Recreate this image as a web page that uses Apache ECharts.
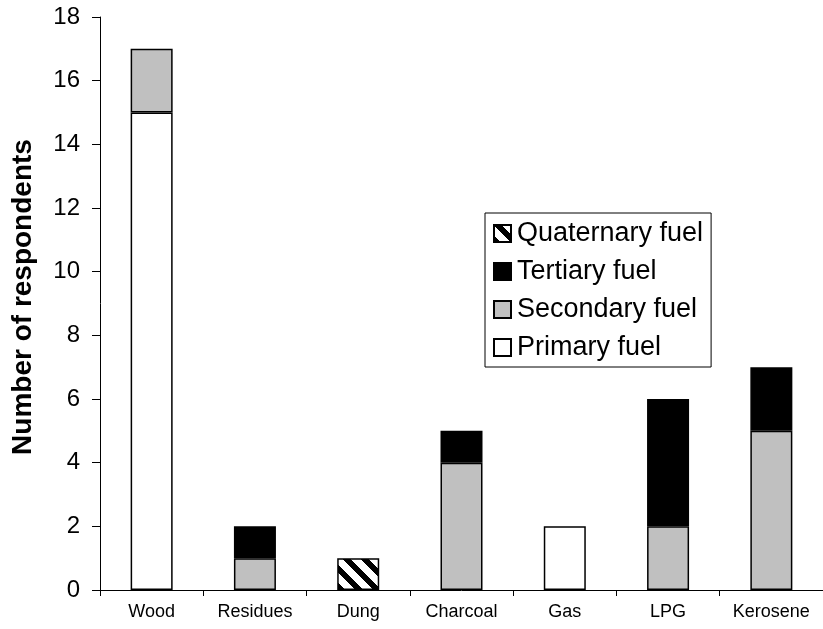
<!DOCTYPE html>
<html>
<head>
<meta charset="utf-8">
<script src="https://cdn.jsdelivr.net/npm/echarts@6/dist/echarts.min.js"></script>
<style>
html,body{margin:0;padding:0;background:#fff;}
#chart{width:823px;height:629px;}
</style>
</head>
<body>
<div id="chart"></div>
<script>
const categories = ['Wood', 'Residues', 'Dung', 'Charcoal', 'Gas', 'LPG', 'Kerosene'];
const primaryFuel = [15, null, null, null, 2, null, null];
const secondaryFuel = [2, 1, null, 4, null, 2, 5];
const tertiaryFuel = [null, 1, null, 1, null, 4, 2];
const quaternaryFuel = [null, null, 1, null, null, null, null];
const yTicks = { min: 0, max: 18, interval: 2 };
const yTitle = 'Number of respondents';

function hatch() {
  const P = 18;
  const c = document.createElement('canvas');
  c.width = P; c.height = P;
  const ctx = c.getContext('2d');
  const img = ctx.createImageData(P, P);
  for (let y = 0; y < P; y++) {
    for (let x = 0; x < P; x++) {
      const v = (((x - y) % P) + P) % P;
      const black = v < 8;
      const i = (y * P + x) * 4;
      const col = black ? 0 : 255;
      img.data[i] = col; img.data[i + 1] = col; img.data[i + 2] = col; img.data[i + 3] = 255;
    }
  }
  ctx.putImageData(img, 0, 0);
  return c;
}

const chart = echarts.init(document.getElementById('chart'), null, { renderer: 'canvas' });
const font = 'Liberation Sans, Arial, sans-serif';
const border = { borderColor: '#000', borderWidth: 1.5 };

function bar(name, data, color) {
  return {
    name: name,
    type: 'bar',
    stack: 'total',
    data: data,
    barWidth: 42,
    itemStyle: Object.assign({ color: color }, border),
    emphasis: { disabled: true }
  };
}

chart.setOption({
  animation: false,
  backgroundColor: '#fff',
  textStyle: { fontFamily: font },
  grid: { left: 100, right: -7, top: 17, bottom: 39, containLabel: false },
  legend: {
    data: ['Quaternary fuel', 'Tertiary fuel', 'Secondary fuel', 'Primary fuel'],
    orient: 'vertical',
    left: 485,
    top: 213,
    itemWidth: 17,
    itemHeight: 17,
    itemGap: 11,
    padding: [7, 8, 6, 8],
    borderColor: '#000',
    borderWidth: 1,
    borderRadius: 0,
    icon: 'rect',
    selectedMode: false,
    textStyle: { fontSize: 27, lineHeight: 27, color: '#000', fontFamily: font, padding: [0, 0, 0, 1] }
  },
  graphic: [{
    type: 'text',
    x: 23,
    y: 297,
    rotation: Math.PI / 2,
    style: {
      text: yTitle,
      font: 'bold 28px ' + font,
      fill: '#000',
      align: 'center',
      verticalAlign: 'middle'
    }
  }],
  xAxis: {
    type: 'category',
    data: categories,
    axisLine: { lineStyle: { color: '#000', width: 1 } },
    axisTick: { show: true, length: 6, lineStyle: { color: '#000' } },
    axisLabel: { fontSize: 18, color: '#000', margin: 13, fontFamily: font, interval: 0 },
    splitLine: { show: false }
  },
  yAxis: {
    type: 'value',
    min: yTicks.min,
    max: yTicks.max,
    interval: yTicks.interval,
    axisLine: { show: true, lineStyle: { color: '#000', width: 1 } },
    axisTick: { show: true, length: 8, lineStyle: { color: '#000' } },
    axisLabel: { fontSize: 24, color: '#000', margin: 20, fontFamily: font },
    splitLine: { show: false }
  },
  series: [
    bar('Primary fuel', primaryFuel, '#ffffff'),
    bar('Secondary fuel', secondaryFuel, '#c0c0c0'),
    bar('Tertiary fuel', tertiaryFuel, '#000000'),
    bar('Quaternary fuel', quaternaryFuel, { image: hatch(), repeat: 'repeat' })
  ]
});
</script>
</body>
</html>
